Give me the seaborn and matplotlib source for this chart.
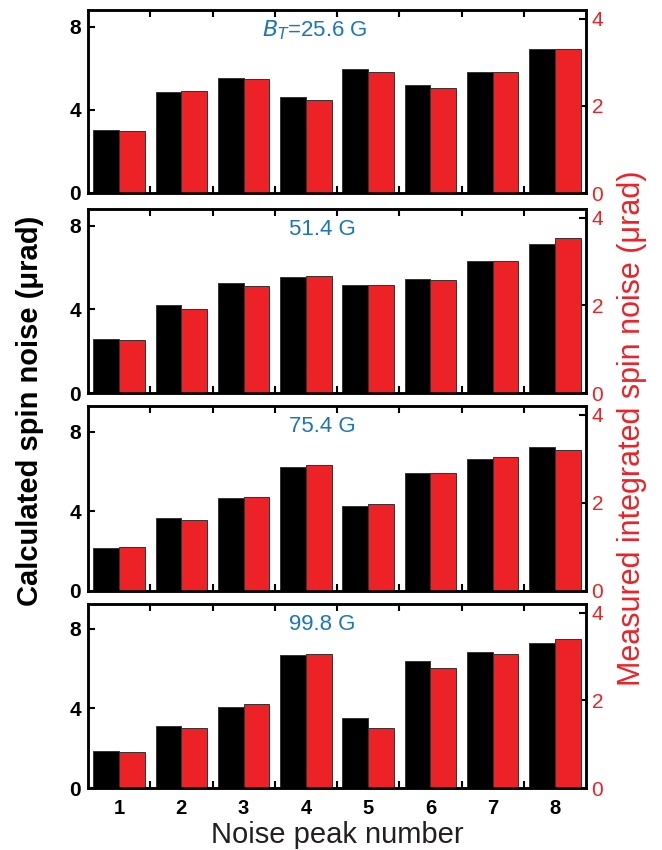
import numpy as np
import pandas as pd
import matplotlib
matplotlib.use("Agg")
import matplotlib.pyplot as plt
import seaborn as sns
from matplotlib.ticker import FixedLocator

sns.set_theme(style="ticks")
plt.rcParams['font.family'] = ['Liberation Sans', 'DejaVu Sans']
plt.rcParams['xtick.color'] = 'black'
plt.rcParams['ytick.color'] = 'black'
plt.rcParams['xtick.labelcolor'] = 'black'
plt.rcParams['ytick.labelcolor'] = 'black'
plt.rcParams['text.color'] = 'black'

# ---- data ----
peaks = [1, 2, 3, 4, 5, 6, 7, 8]
fields = ["$B_T$=25.6 G", "51.4 G", "75.4 G", "99.8 G"]
calc_256 = [3.05, 4.84, 5.51, 4.64, 5.98, 5.17, 5.82, 6.91]
meas_256 = [1.42, 2.33, 2.61, 2.14, 2.77, 2.42, 2.78, 3.30]
calc_514 = [2.56, 4.21, 5.25, 5.55, 5.17, 5.44, 6.29, 7.14]
meas_514 = [1.22, 1.92, 2.45, 2.67, 2.47, 2.59, 3.01, 3.53]
calc_754 = [2.18, 3.65, 4.69, 6.25, 4.29, 5.95, 6.64, 7.26]
meas_754 = [1.00, 1.62, 2.13, 2.86, 1.97, 2.67, 3.05, 3.20]
calc_998 = [1.84, 3.13, 4.07, 6.69, 3.51, 6.36, 6.85, 7.31]
meas_998 = [0.82, 1.37, 1.92, 3.06, 1.37, 2.73, 3.06, 3.39]
calc_sets = [calc_256, calc_514, calc_754, calc_998]
meas_sets = [meas_256, meas_514, meas_754, meas_998]
left_ylims = [8.8, 8.8, 9.3, 9.25]
right_ylim = 4.2
left_ticks = [0, 4, 8]
right_ticks = [0, 2, 4]

BLACK = "#000000"
RED = "#EC2227"
BLUE = "#1B75BC"
hue_order = ["Calculated", "Measured"]
palette = {"Calculated": BLACK, "Measured": RED}

W, H = 662, 850
fig = plt.figure(figsize=(W / 100, H / 100), dpi=100)

panels_px = [(10, 193), (209, 393), (406, 591), (604, 788)]
left_px, right_px = 88, 586
title_x = [0.455, 0.47, 0.47, 0.47]

for i, (top, bot) in enumerate(panels_px):
    ax = fig.add_axes([left_px / W, 1 - bot / H, (right_px - left_px) / W, (bot - top) / H])
    ax2 = ax.twinx()
    df_c = pd.DataFrame({"peak": peaks, "value": calc_sets[i], "series": "Calculated"})
    df_m = pd.DataFrame({"peak": peaks, "value": meas_sets[i], "series": "Measured"})
    sns.barplot(data=df_c, x="peak", y="value", hue="series", hue_order=hue_order,
                palette=palette, dodge=True, width=0.83, ax=ax, legend=False,
                edgecolor="#333333", linewidth=0.7, saturation=1)
    sns.barplot(data=df_m, x="peak", y="value", hue="series", hue_order=hue_order,
                palette=palette, dodge=True, width=0.83, ax=ax2, legend=False,
                edgecolor="#333333", linewidth=0.7, saturation=1)
    ax.set_xlim(-0.5, 7.5)
    ax.set_ylim(0, left_ylims[i])
    ax2.set_ylim(0, right_ylim)
    ax.set_xlabel("")
    ax.set_ylabel("")
    ax2.set_xlabel("")
    ax2.set_ylabel("")

    ax.set_yticks(left_ticks)
    ax.set_yticklabels([str(t) for t in left_ticks], fontsize=15, fontweight="bold",
                       color="black")
    ax2.set_yticks(right_ticks)
    ax2.set_yticklabels([str(t) for t in right_ticks], fontsize=15, color=RED)

    ax.tick_params(axis="y", direction="in", length=5, width=1.5, pad=5, color="black")
    ax2.tick_params(axis="y", direction="in", length=5, width=1.5, pad=4,
                    color="black", labelcolor=RED)

    # group-boundary minor ticks on top and bottom
    ax.xaxis.set_minor_locator(FixedLocator(np.arange(0.5, 7.0, 1.0)))
    ax.tick_params(axis="x", which="minor", direction="in", length=5, width=1.5,
                   top=True, bottom=True, color="black")
    ax.tick_params(axis="x", which="major", length=0, pad=8)
    if i == 3:
        ax.set_xticks(range(len(peaks)))
        ax.set_xticklabels([str(p) for p in peaks], fontsize=14.5, fontweight="bold",
                           color="black")
    else:
        ax.set_xticklabels([])

    for a in (ax, ax2):
        for s in a.spines.values():
            s.set_linewidth(1.8)
            s.set_color("black")

    ax.text(title_x[i], 0.89, fields[i], transform=ax.transAxes, ha="center", va="center",
            fontsize=16, color=BLUE)

fig.text(337 / W, 1 - 843 / H, "Noise peak number", ha="center", va="baseline",
         fontsize=21, color="#231F20")
fig.text(30 / W, 1 - 411 / H, "Calculated spin noise (\u03bcrad)", ha="center", va="center",
         rotation=90, fontsize=21, fontweight="bold", color="black")
fig.text(632 / W, 1 - 428 / H, "Measured integrated spin noise (\u03bcrad)", ha="center",
         va="center", rotation=90, fontsize=22, color=RED)

fig.savefig("out.png", dpi=100)
